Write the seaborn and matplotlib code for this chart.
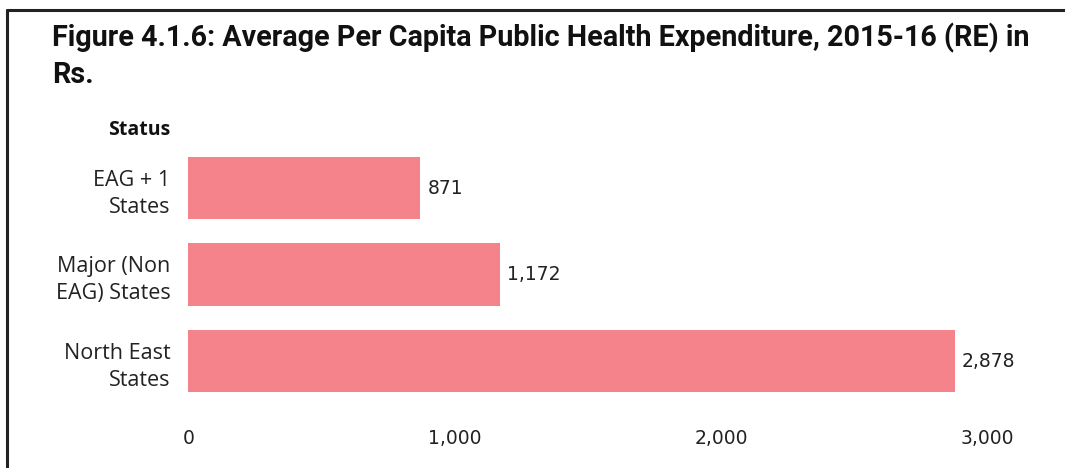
import matplotlib
matplotlib.use("Agg")
import matplotlib.pyplot as plt
import seaborn as sns
import pandas as pd
from matplotlib.lines import Line2D

categories = ["EAG + 1\nStates", "Major (Non\nEAG) States", "North East\nStates"]
values = [871, 1172, 2878]
value_labels = ["871", "1,172", "2,878"]
xticks = [0, 1000, 2000, 3000]
xtick_labels = ["0", "1,000", "2,000", "3,000"]
title_line1 = "Figure 4.1.6: Average Per Capita Public Health Expenditure, 2015-16 (RE) in"
title_line2 = "Rs."
ylabel = "Status"

sns.set_theme(style="white")
plt.rcParams["font.family"] = ["Open Sans", "DejaVu Sans"]

df = pd.DataFrame({"Status": categories, "value": values})

W, H = 1065, 468
fig = plt.figure(figsize=(W / 100, H / 100), dpi=100)
ax = fig.add_axes([183 / W, (H - 415) / H, (990 - 183) / W, (415 - 140) / H])
sns.barplot(data=df, x="value", y="Status", color="#F5838B", saturation=1,
            width=0.72, ax=ax, edgecolor="none")
ax.set_xlim(-20, 3010)
ax.set_ylim(2.624, -0.555)
ax.set_xticks(xticks)
ax.set_xticklabels(xtick_labels, fontsize=13.5, color="#222222", family=["DejaVu Sans"])
ax.set_yticklabels(categories, fontsize=15.5, color="#222222", linespacing=1.4)
ax.tick_params(axis="x", length=0, pad=10)
ax.tick_params(axis="y", length=0, pad=9)
ax.set_xlabel("")
ax.set_ylabel("")
for s in ax.spines.values():
    s.set_visible(False)

for i, (v, lab) in enumerate(zip(values, value_labels)):
    ax.annotate(lab, xy=(v, i), xytext=(5, 0), textcoords="offset points",
                va="center", ha="left", fontsize=13.5, color="#222222",
                family=["DejaVu Sans"])

fig.text(170 / W, 1 - 130 / H, ylabel, ha="right", va="center",
         fontsize=14, fontweight="bold", color="#111111")

# title: fit first line to reference width
renderer = fig.canvas.get_renderer()
fs = 20
t1 = fig.text(52 / W, 1 - 38 / H, title_line1, ha="left", va="center",
              fontsize=fs, fontweight="bold", color="#111111",
              family=["Roboto", "DejaVu Sans"])
for _ in range(3):
    w = t1.get_window_extent(renderer).width
    fs = fs * 978 / w
    t1.set_fontsize(fs)
fig.text(52 / W, 1 - 75 / H, title_line2, ha="left", va="center",
         fontsize=fs, fontweight="bold", color="#111111",
         family=["Roboto", "DejaVu Sans"])

fig.add_artist(Line2D([7 / W, 7 / W], [0, 1 - 10 / H], transform=fig.transFigure,
                      color="#222222", lw=2.2))
fig.add_artist(Line2D([7 / W, 1], [1 - 10 / H, 1 - 10 / H], transform=fig.transFigure,
                      color="#222222", lw=2.2))

fig.savefig("out.png", dpi=100)
